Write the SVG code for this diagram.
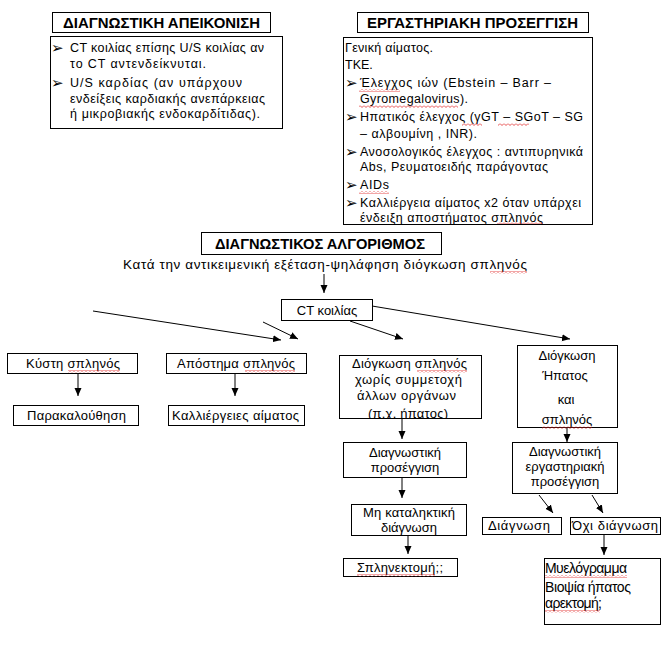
<svg xmlns="http://www.w3.org/2000/svg" width="670" height="654" viewBox="0 0 670 654">
<style>
.bg{fill:#fff}
.box{fill:#fff;stroke:#000;stroke-width:1}
.t{font-family:"Liberation Sans",Arial,"DejaVu Sans",sans-serif;font-size:13px;fill:#000}
.s{font-size:12.5px}
.h{font-weight:bold;font-size:14px}
.c{text-anchor:middle}
.b{font-family:"DejaVu Sans",sans-serif;font-size:15px;fill:#000}
.conn{stroke:#000;stroke-width:1;fill:none;marker-end:url(#ah)}
.sq{fill:url(#sq)}
</style>
<defs>
<marker id="ah" markerUnits="userSpaceOnUse" markerWidth="8" markerHeight="8" refX="8" refY="4" orient="auto">
<path d="M0,0.5 L8,4 L0,7.5 z" fill="#000"/>
</marker>
<pattern id="sq" patternUnits="userSpaceOnUse" width="4" height="3">
<path d="M0,0.5 L2,2.5 L4,0.5" stroke="#e02020" stroke-width="0.8" fill="none"/>
</pattern>
<clipPath id="clipR"><rect x="343" y="37" width="249" height="187"/></clipPath>
<clipPath id="clipM"><rect x="339" y="355" width="142" height="63"/></clipPath>
</defs>
<rect class="bg" x="0" y="0" width="670" height="654"/>

<g id="imaging-title">
<rect class="box" x="52.5" y="12.5" width="218" height="20"/>
<text class="t h" x="63" y="27.5" textLength="197" lengthAdjust="spacingAndGlyphs">ΔΙΑΓΝΩΣΤΙΚΗ ΑΠΕΙΚΟΝΙΣΗ</text>
</g>
<g id="imaging-body">
<rect class="box" x="50.5" y="36.5" width="232" height="92"/>
<text class="b" x="51" y="53">➢</text>
<text class="t s" x="70" y="52" textLength="194">CT κοιλίας επίσης U/S κοιλίας αν</text>
<text class="t s" x="70" y="68" textLength="136">το CT αντενδείκνυται.</text>
<text class="b" x="51" y="88">➢</text>
<text class="t s" x="70" y="87" textLength="172">U/S καρδίας (αν υπάρχουν</text>
<text class="t s" x="70" y="103" textLength="195">ενδείξεις καρδιακής ανεπάρκειας</text>
<text class="t s" x="70" y="118" textLength="190">ή μικροβιακής ενδοκαρδίτιδας).</text>
</g>

<g id="lab-title">
<rect class="box" x="357.5" y="12.5" width="231" height="20"/>
<text class="t h" x="367" y="27.5" textLength="211" lengthAdjust="spacingAndGlyphs">ΕΡΓΑΣΤΗΡΙΑΚΗ ΠΡΟΣΕΓΓΙΣΗ</text>
</g>
<g id="lab-body">
<rect class="box" x="343.5" y="37.5" width="249" height="187"/>
<g clip-path="url(#clipR)">
<text class="t s" x="345" y="52" textLength="88">Γενική αίματος.</text>
<text class="t s" x="345" y="69">ΤΚΕ.</text>
<text class="b" x="345" y="88">➢</text>
<text class="t s" x="360" y="87" textLength="191">Έλεγχος ιών (Ebstein – Barr –</text>
<rect class="sq" x="359" y="89" width="41" height="3"/>
<text class="t s" x="360" y="103" textLength="108">Gyromegalovirus).</text>
<rect class="sq" x="359" y="105" width="99" height="3"/>
<text class="b" x="345" y="122">➢</text>
<text class="t s" x="360" y="121" textLength="223">Ηπατικός έλεγχος (γGT – SGoT – SG</text>
<rect class="sq" x="462" y="123" width="20" height="3"/>
<rect class="sq" x="498" y="123" width="31" height="3"/>
<text class="t s" x="360" y="138" textLength="117">– αλβουμίνη , INR).</text>
<text class="b" x="345" y="157">➢</text>
<text class="t s" x="360" y="156" textLength="223">Ανοσολογικός έλεγχος : αντιπυρηνικά</text>
<text class="t s" x="360" y="171" textLength="188">Abs, Ρευματοειδής παράγοντας</text>
<text class="b" x="345" y="190">➢</text>
<text class="t s" x="360" y="189" textLength="29">AIDs</text>
<rect class="sq" x="359" y="191" width="30" height="3"/>
<text class="b" x="345" y="208">➢</text>
<text class="t s" x="360" y="207" textLength="221">Καλλιέργεια αίματος x2 όταν υπάρχει</text>
<text class="t s" x="360" y="222" textLength="183">ένδειξη αποστήματος σπληνός</text>
<rect class="sq" x="497" y="222" width="46" height="3"/>
</g>
</g>

<g id="algo-title">
<rect class="box" x="201.5" y="232.5" width="240" height="22"/>
<text class="t h" x="215" y="248.5" textLength="210" lengthAdjust="spacingAndGlyphs">ΔΙΑΓΝΩΣΤΙΚΟΣ ΑΛΓΟΡΙΘΜΟΣ</text>
</g>
<g id="algo-start">
<text class="t" x="123" y="269" style="font-size:13.5px" textLength="404">Κατά την αντικειμενική εξέταση-ψηλάφηση διόγκωση σπληνός</text>
<rect class="sq" x="490" y="271" width="37" height="3"/>
</g>

<g id="ct">
<rect class="box" x="281.5" y="299.5" width="91" height="21"/>
<text class="t c" x="327" y="315">CT κοιλίας</text>
</g>

<g id="cyst">
<rect class="box" x="7.5" y="353.5" width="130" height="20"/>
<text class="t" x="26" y="368" textLength="94">Κύστη σπληνός</text>
<rect class="sq" x="68" y="370" width="52" height="3"/>
</g>
<g id="follow">
<rect class="box" x="13.5" y="405.5" width="125" height="20"/>
<text class="t" x="27" y="420" textLength="99">Παρακαλούθηση</text>
</g>
<g id="abscess">
<rect class="box" x="166.5" y="353.5" width="140" height="20"/>
<text class="t" x="177" y="368" textLength="118">Απόστημα σπληνός</text>
<rect class="sq" x="245" y="370" width="50" height="3"/>
</g>
<g id="cultures">
<rect class="box" x="168.5" y="405.5" width="136" height="20"/>
<text class="t" x="172" y="420" textLength="127">Καλλιέργειες αίματος</text>
</g>

<g id="spleno">
<rect class="box" x="339.5" y="355.5" width="142" height="63"/>
<g clip-path="url(#clipM)">
<text class="t" x="352" y="368" textLength="115">Διόγκωση σπληνός</text>
<rect class="sq" x="417" y="370" width="50" height="3"/>
<text class="t" x="355" y="384" textLength="107">χωρίς συμμετοχή</text>
<text class="t" x="357" y="400" textLength="99">άλλων οργάνων</text>
<text class="t" x="368" y="418" textLength="80">(π.χ. ήπατος)</text>
</g>
</g>
<g id="diag-approach">
<rect class="box" x="343.5" y="442.5" width="123" height="35"/>
<text class="t c" x="405" y="457">Διαγνωστική</text>
<text class="t c" x="405" y="472">προσέγγιση</text>
</g>
<g id="nonfinal">
<rect class="box" x="351.5" y="504.5" width="115" height="31"/>
<text class="t" x="363" y="517" textLength="92">Μη καταληκτική</text>
<text class="t c" x="409" y="532">διάγνωση</text>
</g>
<g id="splenectomy">
<rect class="box" x="343.5" y="558.5" width="114" height="18"/>
<text class="t" x="357" y="572" textLength="86">Σπληνεκτομή;;</text>
<rect class="sq" x="357" y="574" width="78" height="3"/>
</g>

<g id="hepatospleno">
<rect class="box" x="517.5" y="345.5" width="100" height="82"/>
<text class="t c" x="567" y="360">Διόγκωση</text>
<text class="t c" x="565" y="380">Ήπατος</text>
<text class="t c" x="566" y="404">και</text>
<text class="t c" x="567" y="424">σπληνός</text>
<rect class="sq" x="542" y="426" width="50" height="3"/>
</g>
<g id="lab-approach">
<rect class="box" x="512.5" y="442.5" width="105" height="51"/>
<text class="t c" x="565" y="456">Διαγνωστική</text>
<text class="t c" x="565" y="471">εργαστηριακή</text>
<text class="t c" x="565" y="486">προσέγγιση</text>
</g>
<g id="diagnosis">
<rect class="box" x="482.5" y="517.5" width="79" height="17"/>
<text class="t" x="488" y="530" textLength="62">Διάγνωση</text>
</g>
<g id="no-diagnosis">
<rect class="box" x="570.5" y="517.5" width="90" height="17"/>
<text class="t" x="572" y="530" textLength="86">Όχι διάγνωση</text>
</g>
<g id="further">
<rect class="box" x="544.5" y="558.5" width="116" height="66"/>
<text class="t" x="545" y="573" style="font-size:14px" textLength="82">Μυελόγραμμα</text>
<rect class="sq" x="545" y="575" width="82" height="3"/>
<text class="t" x="545" y="592" style="font-size:14px" textLength="86">Βιοψία ήπατος</text>
<text class="t" x="545" y="608" style="font-size:14px" textLength="57">αρεκτομή;</text>
<rect class="sq" x="545" y="610" width="55" height="3"/>
</g>

<g id="connectors">
<line class="conn" x1="324" y1="274" x2="324" y2="293"/>
<line class="conn" x1="93" y1="311" x2="281" y2="340"/>
<line class="conn" x1="263" y1="322" x2="298" y2="339"/>
<line class="conn" x1="350" y1="321" x2="403" y2="339"/>
<line class="conn" x1="372" y1="306" x2="570" y2="339"/>
<line class="conn" x1="78" y1="374" x2="78" y2="396"/>
<line class="conn" x1="235" y1="374" x2="235" y2="396"/>
<line class="conn" x1="402" y1="419" x2="402" y2="439"/>
<line class="conn" x1="402" y1="478" x2="402" y2="498"/>
<line class="conn" x1="408" y1="536" x2="408" y2="554"/>
<line class="conn" x1="567" y1="428" x2="567" y2="442"/>
<line class="conn" x1="539" y1="495" x2="553" y2="513"/>
<line class="conn" x1="592" y1="495" x2="603" y2="513"/>
<line class="conn" x1="604" y1="535" x2="604" y2="555"/>
</g>
</svg>
